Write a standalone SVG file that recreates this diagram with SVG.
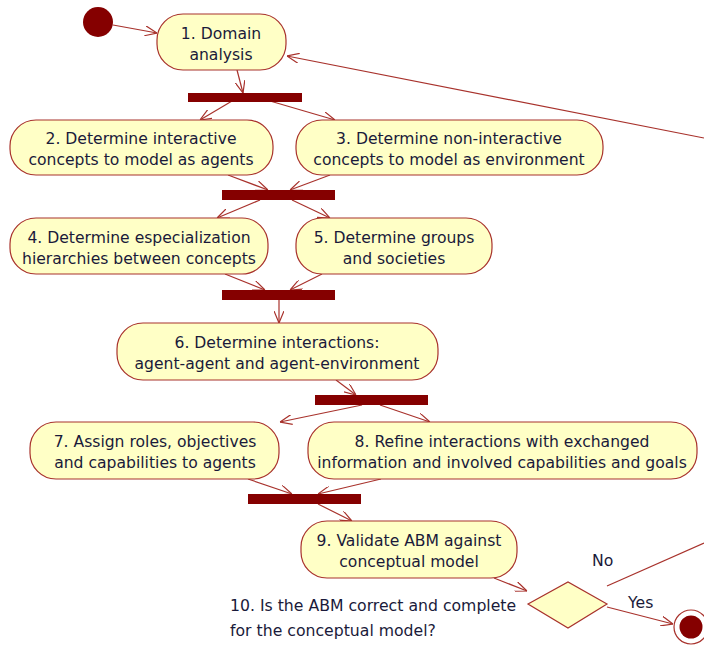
<svg xmlns="http://www.w3.org/2000/svg" width="704" height="646" viewBox="0 0 704 646">
<defs>
<style>
.n{fill:#ffffc6;stroke:#a8322c;stroke-width:1.2}
.bar{fill:#850000}
.t{font-family:"DejaVu Sans","Liberation Sans",sans-serif;font-size:15.6px;fill:#1a1a3a;text-anchor:middle}
.tl{font-family:"DejaVu Sans","Liberation Sans",sans-serif;font-size:15.7px;fill:#1a1a3a}
.e{fill:none;stroke:#a8322c;stroke-width:1.2}
.a{marker-end:url(#arr)}
</style>
<marker id="arr" viewBox="0 0 12 10" refX="12" refY="5" markerWidth="12" markerHeight="10" markerUnits="userSpaceOnUse" orient="auto">
<path d="M0,0 L12,5 L0,10" fill="none" stroke="#a8322c" stroke-width="1.2"/>
</marker>
</defs>
<rect width="704" height="646" fill="#ffffff"/>
<g id="connectors">
<line class="e a" x1="113" y1="25" x2="157" y2="33"/>
<line class="e a" x1="237" y1="70" x2="243" y2="93"/>
<line class="e a" x1="232" y1="101" x2="200" y2="120"/>
<line class="e a" x1="270" y1="101" x2="335" y2="120"/>
<line class="e a" x1="228" y1="175" x2="268" y2="190"/>
<line class="e a" x1="330" y1="175" x2="290" y2="190"/>
<line class="e a" x1="260" y1="200" x2="217" y2="218"/>
<line class="e a" x1="292" y1="200" x2="330" y2="218"/>
<line class="e a" x1="225" y1="274" x2="265" y2="290"/>
<line class="e a" x1="322" y1="274" x2="290" y2="290"/>
<line class="e a" x1="279" y1="300" x2="279" y2="323"/>
<line class="e a" x1="336" y1="380" x2="356" y2="395"/>
<line class="e a" x1="362" y1="405" x2="280" y2="422"/>
<line class="e a" x1="380" y1="405" x2="430" y2="422"/>
<line class="e a" x1="248" y1="479" x2="292" y2="494"/>
<line class="e a" x1="381" y1="479" x2="318" y2="494"/>
<line class="e a" x1="318" y1="504" x2="352" y2="521"/>
<line class="e a" x1="494" y1="578" x2="527" y2="591"/>
<line class="e a" x1="607" y1="607" x2="673" y2="624"/>
<line class="e" x1="607" y1="586" x2="704" y2="543"/>
<line class="e a" x1="704" y1="138" x2="287" y2="56"/>
</g>
<g id="start"><circle cx="98" cy="22" r="15" fill="#850000"/></g>
<g id="n1"><rect class="n" x="157" y="14" width="129" height="56" rx="26"/><text class="t" x="221" y="39">1. Domain</text><text class="t" x="221" y="60">analysis</text></g>
<g id="fork1"><rect class="bar" x="188" y="93" width="114" height="9"/></g>
<g id="n2"><rect class="n" x="10" y="120" width="263" height="55" rx="26"/><text class="t" x="141" y="144">2. Determine interactive</text><text class="t" x="141" y="165">concepts to model as agents</text></g>
<g id="n3"><rect class="n" x="296" y="120" width="307" height="55" rx="26"/><text class="t" x="449" y="144">3. Determine non-interactive</text><text class="t" x="449" y="165">concepts to model as environment</text></g>
<g id="join2"><rect class="bar" x="222" y="190" width="113" height="10"/></g>
<g id="n4"><rect class="n" x="10" y="218" width="258" height="56" rx="26"/><text class="t" x="139" y="243">4. Determine especialization</text><text class="t" x="139" y="264">hierarchies between concepts</text></g>
<g id="n5"><rect class="n" x="296" y="218" width="196" height="56" rx="26"/><text class="t" x="394" y="243">5. Determine groups</text><text class="t" x="394" y="264">and societies</text></g>
<g id="join3"><rect class="bar" x="222" y="290" width="113" height="10"/></g>
<g id="n6"><rect class="n" x="117" y="323" width="321" height="57" rx="26"/><text class="t" x="277" y="348">6. Determine interactions:</text><text class="t" x="277" y="369">agent-agent and agent-environment</text></g>
<g id="fork4"><rect class="bar" x="315" y="395" width="113" height="10"/></g>
<g id="n7"><rect class="n" x="30" y="422" width="249" height="57" rx="26"/><text class="t" x="155" y="447">7. Assign roles, objectives</text><text class="t" x="155" y="468">and capabilities to agents</text></g>
<g id="n8"><rect class="n" x="308" y="422" width="389" height="57" rx="26"/><text class="t" x="502" y="447">8. Refine interactions with exchanged</text><text class="t" x="502" y="468">information and involved capabilities and goals</text></g>
<g id="join5"><rect class="bar" x="248" y="494" width="113" height="10"/></g>
<g id="n9"><rect class="n" x="301" y="521" width="216" height="57" rx="26"/><text class="t" x="409" y="546">9. Validate ABM against</text><text class="t" x="409" y="567">conceptual model</text></g>
<g id="n10"><polygon class="n" points="528,604 568,582 607,604 568,628"/><text class="tl" x="230" y="611">10. Is the ABM correct and complete</text><text class="tl" x="230" y="636">for the conceptual model?</text></g>
<g id="labels"><text class="tl" x="592" y="566">No</text><text class="tl" x="628" y="608">Yes</text></g>
<g id="end"><circle cx="691" cy="627" r="17" fill="#ffffff" stroke="#a8322c" stroke-width="1.2"/><circle cx="691" cy="627" r="11.5" fill="#850000"/></g>
</svg>
